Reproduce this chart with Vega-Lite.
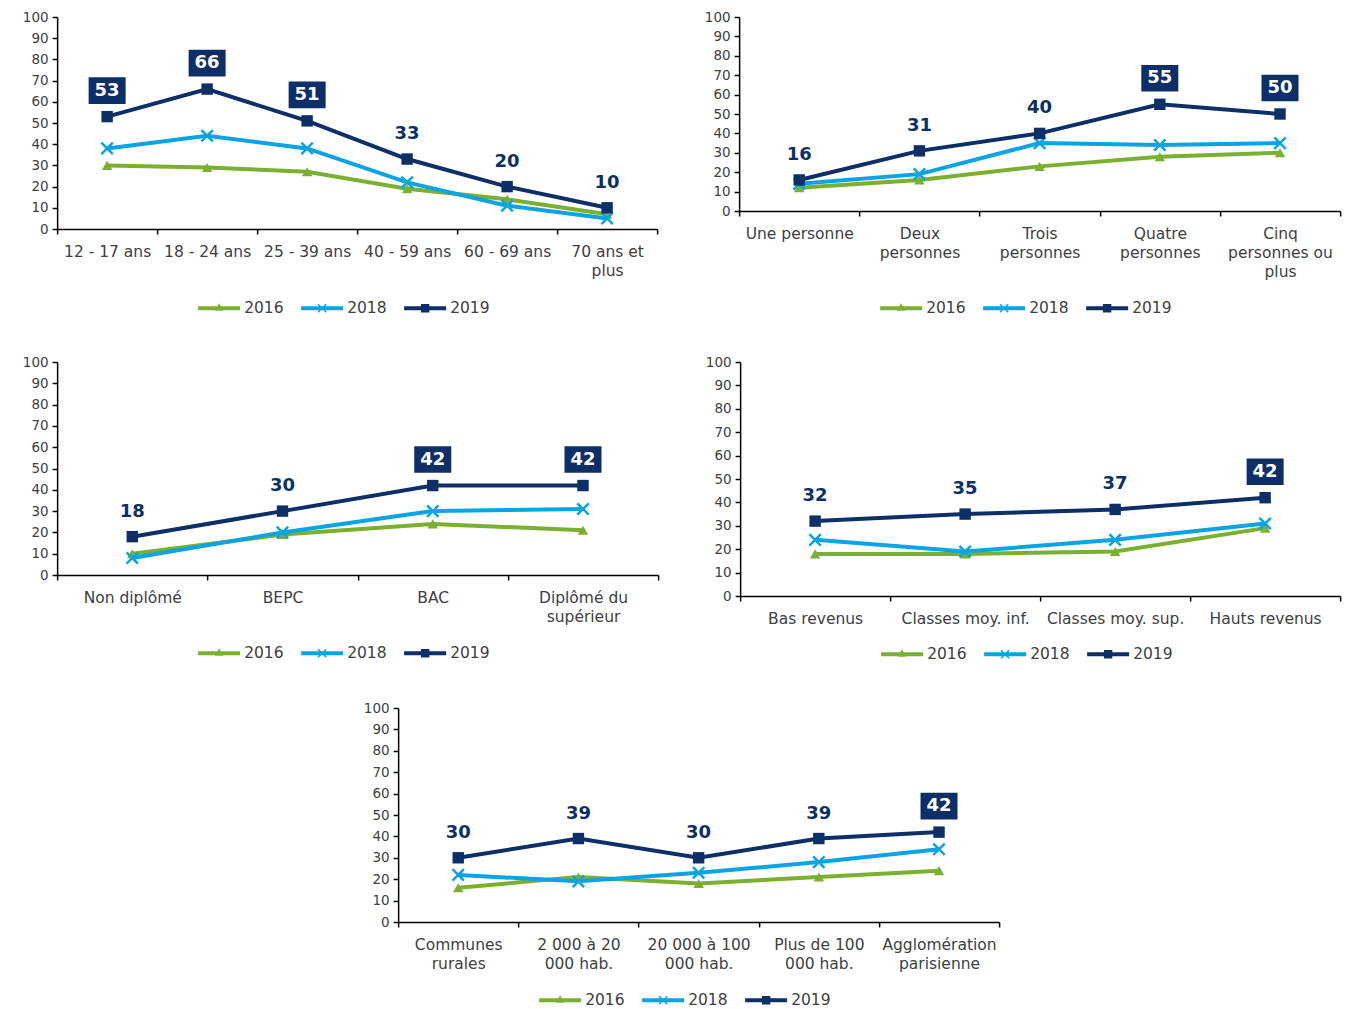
{
  "$schema": "https://vega.github.io/schema/vega-lite/v6.json",
  "background": "white",
  "padding": {"left": 22, "top": 10, "right": 5, "bottom": 5},
  "config": {
    "font": "DejaVu Sans",
    "view": {"stroke": null},
    "axis": {"labelFont": "DejaVu Sans", "labelColor": "#404040", "domainColor": "#000000", "domainWidth": 1.5, "tickColor": "#000000", "tickWidth": 1.5, "tickSize": 5, "grid": false},
    "axisX": {"labelFontSize": 15.5, "labelAngle": 0, "tickBand": "extent", "labelPadding": 10, "labelLineHeight": 19, "labelOverlap": false, "labelBaseline": "top"},
    "axisY": {"labelFontSize": 13.5, "labelPadding": 4},
    "legend": {"labelFont": "DejaVu Sans", "labelFontSize": 15.5, "labelColor": "#404040", "symbolSize": 1764, "symbolStrokeWidth": 0, "columnPadding": 17, "labelOffset": 4}
  },
  "datasets": {
    "age": [
      {"cat": "12 - 17 ans", "year": "2016", "v": 30}, {"cat": "18 - 24 ans", "year": "2016", "v": 29}, {"cat": "25 - 39 ans", "year": "2016", "v": 27}, {"cat": "40 - 59 ans", "year": "2016", "v": 19}, {"cat": "60 - 69 ans", "year": "2016", "v": 14}, {"cat": "70 ans et plus", "year": "2016", "v": 7},
      {"cat": "12 - 17 ans", "year": "2018", "v": 38}, {"cat": "18 - 24 ans", "year": "2018", "v": 44}, {"cat": "25 - 39 ans", "year": "2018", "v": 38}, {"cat": "40 - 59 ans", "year": "2018", "v": 22}, {"cat": "60 - 69 ans", "year": "2018", "v": 11}, {"cat": "70 ans et plus", "year": "2018", "v": 5},
      {"cat": "12 - 17 ans", "year": "2019", "v": 53}, {"cat": "18 - 24 ans", "year": "2019", "v": 66}, {"cat": "25 - 39 ans", "year": "2019", "v": 51}, {"cat": "40 - 59 ans", "year": "2019", "v": 33}, {"cat": "60 - 69 ans", "year": "2019", "v": 20}, {"cat": "70 ans et plus", "year": "2019", "v": 10}
    ],
    "foyer": [
      {"cat": "Une personne", "year": "2016", "v": 12}, {"cat": "Deux personnes", "year": "2016", "v": 16}, {"cat": "Trois personnes", "year": "2016", "v": 23}, {"cat": "Quatre personnes", "year": "2016", "v": 28}, {"cat": "Cinq personnes ou plus", "year": "2016", "v": 30},
      {"cat": "Une personne", "year": "2018", "v": 14}, {"cat": "Deux personnes", "year": "2018", "v": 19}, {"cat": "Trois personnes", "year": "2018", "v": 35}, {"cat": "Quatre personnes", "year": "2018", "v": 34}, {"cat": "Cinq personnes ou plus", "year": "2018", "v": 35},
      {"cat": "Une personne", "year": "2019", "v": 16}, {"cat": "Deux personnes", "year": "2019", "v": 31}, {"cat": "Trois personnes", "year": "2019", "v": 40}, {"cat": "Quatre personnes", "year": "2019", "v": 55}, {"cat": "Cinq personnes ou plus", "year": "2019", "v": 50}
    ],
    "diplome": [
      {"cat": "Non diplômé", "year": "2016", "v": 10}, {"cat": "BEPC", "year": "2016", "v": 19}, {"cat": "BAC", "year": "2016", "v": 24}, {"cat": "Diplômé du supérieur", "year": "2016", "v": 21},
      {"cat": "Non diplômé", "year": "2018", "v": 8}, {"cat": "BEPC", "year": "2018", "v": 20}, {"cat": "BAC", "year": "2018", "v": 30}, {"cat": "Diplômé du supérieur", "year": "2018", "v": 31},
      {"cat": "Non diplômé", "year": "2019", "v": 18}, {"cat": "BEPC", "year": "2019", "v": 30}, {"cat": "BAC", "year": "2019", "v": 42}, {"cat": "Diplômé du supérieur", "year": "2019", "v": 42}
    ],
    "revenu": [
      {"cat": "Bas revenus", "year": "2016", "v": 18}, {"cat": "Classes moy. inf.", "year": "2016", "v": 18}, {"cat": "Classes moy. sup.", "year": "2016", "v": 19}, {"cat": "Hauts revenus", "year": "2016", "v": 29},
      {"cat": "Bas revenus", "year": "2018", "v": 24}, {"cat": "Classes moy. inf.", "year": "2018", "v": 19}, {"cat": "Classes moy. sup.", "year": "2018", "v": 24}, {"cat": "Hauts revenus", "year": "2018", "v": 31},
      {"cat": "Bas revenus", "year": "2019", "v": 32}, {"cat": "Classes moy. inf.", "year": "2019", "v": 35}, {"cat": "Classes moy. sup.", "year": "2019", "v": 37}, {"cat": "Hauts revenus", "year": "2019", "v": 42}
    ],
    "ville": [
      {"cat": "Communes rurales", "year": "2016", "v": 16}, {"cat": "2 000 à 20 000 hab.", "year": "2016", "v": 21}, {"cat": "20 000 à 100 000 hab.", "year": "2016", "v": 18}, {"cat": "Plus de 100 000 hab.", "year": "2016", "v": 21}, {"cat": "Agglomération parisienne", "year": "2016", "v": 24},
      {"cat": "Communes rurales", "year": "2018", "v": 22}, {"cat": "2 000 à 20 000 hab.", "year": "2018", "v": 19}, {"cat": "20 000 à 100 000 hab.", "year": "2018", "v": 23}, {"cat": "Plus de 100 000 hab.", "year": "2018", "v": 28}, {"cat": "Agglomération parisienne", "year": "2018", "v": 34},
      {"cat": "Communes rurales", "year": "2019", "v": 30}, {"cat": "2 000 à 20 000 hab.", "year": "2019", "v": 39}, {"cat": "20 000 à 100 000 hab.", "year": "2019", "v": 30}, {"cat": "Plus de 100 000 hab.", "year": "2019", "v": 39}, {"cat": "Agglomération parisienne", "year": "2019", "v": 42}
    ]
  },
  "center": true,
  "spacing": 38,
  "resolve": {"scale": {"fill": "independent", "shape": "independent"}, "legend": {"fill": "independent", "shape": "independent"}},
  "vconcat": [
    {
      "spacing": 46,
      "resolve": {"scale": {"fill": "independent", "shape": "independent"}, "legend": {"fill": "independent", "shape": "independent"}},
      "hconcat": [
        {
          "width": 600, "height": 212,
          "data": {"name": "age"},
          "encoding": {
            "x": {"field": "cat", "type": "nominal", "title": null, "sort": ["12 - 17 ans", "18 - 24 ans", "25 - 39 ans", "40 - 59 ans", "60 - 69 ans", "70 ans et plus"], "scale": {"type": "band", "paddingInner": 0, "paddingOuter": 0}, "axis": {"labelExpr": "datum.label == '70 ans et plus' ? ['70 ans et', 'plus'] : datum.label"}},
            "y": {"field": "v", "type": "quantitative", "title": null, "scale": {"domain": [0, 100]}, "axis": {"values": [0, 10, 20, 30, 40, 50, 60, 70, 80, 90, 100]}}
          },
          "layer": [
            {"transform": [{"filter": "datum.year == '2016'"}], "mark": {"type": "line", "strokeWidth": 4, "color": "#7AB02F"}},
            {"transform": [{"filter": "datum.year == '2016'"}], "mark": {"type": "point", "shape": "triangle-up", "filled": true, "color": "#7AB02F", "size": 110, "opacity": 1}},
            {"transform": [{"filter": "datum.year == '2018'"}], "mark": {"type": "line", "strokeWidth": 4, "color": "#0AA3E3"}},
            {"transform": [{"filter": "datum.year == '2018'"}], "mark": {"type": "point", "shape": "M-1,-1L1,1M-1,1L1,-1", "filled": false, "color": "#0AA3E3", "strokeWidth": 2.5, "size": 130, "opacity": 1}},
            {"transform": [{"filter": "datum.year == '2019'"}], "mark": {"type": "line", "strokeWidth": 4, "color": "#0B2F66"}},
            {"transform": [{"filter": "datum.year == '2019'"}], "mark": {"type": "point", "shape": "square", "filled": true, "color": "#0B2F66", "size": 130, "opacity": 1}},
            {"transform": [{"filter": "datum.year == '2019' && datum.v < 42"}], "mark": {"type": "text", "font": "DejaVu Sans", "fontWeight": "bold", "fontSize": 18, "color": "#0B2F66", "baseline": "middle", "yOffset": -25}, "encoding": {"text": {"field": "v"}}},
            {"transform": [{"filter": "datum.year == '2019' && datum.v >= 42"}], "mark": {"type": "point", "shape": "M-1,-0.72L1,-0.72L1,0.72L-1,0.72Z", "filled": true, "color": "#0B2F66", "size": 1369, "opacity": 1, "yOffset": -26}},
            {"transform": [{"filter": "datum.year == '2019' && datum.v >= 42"}], "mark": {"type": "text", "font": "DejaVu Sans", "fontWeight": "bold", "fontSize": 18, "color": "#FFFFFF", "baseline": "middle", "yOffset": -26}, "encoding": {"text": {"field": "v"}}},
            {"mark": {"type": "point", "filled": true, "opacity": 0},
              "encoding": {
                "fill": {"field": "year", "type": "nominal", "scale": {"domain": ["2016", "2018", "2019"], "range": ["#7AB02F", "#0AA3E3", "#0B2F66"]}, "legend": {"orient": "none", "direction": "horizontal", "legendX": 141, "legendY": 270, "title": null, "symbolOpacity": 1}},
                "shape": {"field": "year", "type": "nominal", "scale": {"domain": ["2016", "2018", "2019"], "range": ["M-1,-0.1L1,-0.1L1,0.1L-1,0.1Z M0,-0.24L0.2,0.12L-0.2,0.12Z", "M-1,-0.1L1,-0.1L1,0.1L-1,0.1Z M-0.22,-0.17L-0.17,-0.22L0.22,0.17L0.17,0.22Z M0.17,-0.22L0.22,-0.17L-0.17,0.22L-0.22,0.17Z", "M-1,-0.1L1,-0.1L1,0.1L-1,0.1Z M-0.2,-0.2L0.2,-0.2L0.2,0.2L-0.2,0.2Z"]}, "legend": {"orient": "none", "direction": "horizontal", "legendX": 141, "legendY": 270, "title": null, "symbolOpacity": 1}}
              }}
          ]
        },
        {
          "width": 601, "height": 194,
          "data": {"name": "foyer"},
          "encoding": {
            "x": {"field": "cat", "type": "nominal", "title": null, "sort": ["Une personne", "Deux personnes", "Trois personnes", "Quatre personnes", "Cinq personnes ou plus"], "scale": {"type": "band", "paddingInner": 0, "paddingOuter": 0}, "axis": {"labelExpr": "datum.label == 'Deux personnes' ? ['Deux', 'personnes'] : datum.label == 'Trois personnes' ? ['Trois', 'personnes'] : datum.label == 'Quatre personnes' ? ['Quatre', 'personnes'] : datum.label == 'Cinq personnes ou plus' ? ['Cinq', 'personnes ou', 'plus'] : datum.label"}},
            "y": {"field": "v", "type": "quantitative", "title": null, "scale": {"domain": [0, 100]}, "axis": {"values": [0, 10, 20, 30, 40, 50, 60, 70, 80, 90, 100]}}
          },
          "layer": [
            {"transform": [{"filter": "datum.year == '2016'"}], "mark": {"type": "line", "strokeWidth": 4, "color": "#7AB02F"}},
            {"transform": [{"filter": "datum.year == '2016'"}], "mark": {"type": "point", "shape": "triangle-up", "filled": true, "color": "#7AB02F", "size": 110, "opacity": 1}},
            {"transform": [{"filter": "datum.year == '2018'"}], "mark": {"type": "line", "strokeWidth": 4, "color": "#0AA3E3"}},
            {"transform": [{"filter": "datum.year == '2018'"}], "mark": {"type": "point", "shape": "M-1,-1L1,1M-1,1L1,-1", "filled": false, "color": "#0AA3E3", "strokeWidth": 2.5, "size": 130, "opacity": 1}},
            {"transform": [{"filter": "datum.year == '2019'"}], "mark": {"type": "line", "strokeWidth": 4, "color": "#0B2F66"}},
            {"transform": [{"filter": "datum.year == '2019'"}], "mark": {"type": "point", "shape": "square", "filled": true, "color": "#0B2F66", "size": 130, "opacity": 1}},
            {"transform": [{"filter": "datum.year == '2019' && datum.v < 42"}], "mark": {"type": "text", "font": "DejaVu Sans", "fontWeight": "bold", "fontSize": 18, "color": "#0B2F66", "baseline": "middle", "yOffset": -25}, "encoding": {"text": {"field": "v"}}},
            {"transform": [{"filter": "datum.year == '2019' && datum.v >= 42"}], "mark": {"type": "point", "shape": "M-1,-0.72L1,-0.72L1,0.72L-1,0.72Z", "filled": true, "color": "#0B2F66", "size": 1369, "opacity": 1, "yOffset": -26}},
            {"transform": [{"filter": "datum.year == '2019' && datum.v >= 42"}], "mark": {"type": "text", "font": "DejaVu Sans", "fontWeight": "bold", "fontSize": 18, "color": "#FFFFFF", "baseline": "middle", "yOffset": -26}, "encoding": {"text": {"field": "v"}}},
            {"mark": {"type": "point", "filled": true, "opacity": 0},
              "encoding": {
                "fill": {"field": "year", "type": "nominal", "scale": {"domain": ["2016", "2018", "2019"], "range": ["#7AB02F", "#0AA3E3", "#0B2F66"]}, "legend": {"orient": "none", "direction": "horizontal", "legendX": 141, "legendY": 270, "title": null, "symbolOpacity": 1}},
                "shape": {"field": "year", "type": "nominal", "scale": {"domain": ["2016", "2018", "2019"], "range": ["M-1,-0.1L1,-0.1L1,0.1L-1,0.1Z M0,-0.24L0.2,0.12L-0.2,0.12Z", "M-1,-0.1L1,-0.1L1,0.1L-1,0.1Z M-0.22,-0.17L-0.17,-0.22L0.22,0.17L0.17,0.22Z M0.17,-0.22L0.22,-0.17L-0.17,0.22L-0.22,0.17Z", "M-1,-0.1L1,-0.1L1,0.1L-1,0.1Z M-0.2,-0.2L0.2,-0.2L0.2,0.2L-0.2,0.2Z"]}, "legend": {"orient": "none", "direction": "horizontal", "legendX": 141, "legendY": 270, "title": null, "symbolOpacity": 1}}
              }}
          ]
        }
      ]
    },
    {
      "spacing": 46,
      "resolve": {"scale": {"fill": "independent", "shape": "independent"}, "legend": {"fill": "independent", "shape": "independent"}},
      "hconcat": [
        {
          "width": 601, "height": 213,
          "data": {"name": "diplome"},
          "encoding": {
            "x": {"field": "cat", "type": "nominal", "title": null, "sort": ["Non diplômé", "BEPC", "BAC", "Diplômé du supérieur"], "scale": {"type": "band", "paddingInner": 0, "paddingOuter": 0}, "axis": {"labelExpr": "datum.label == 'Diplômé du supérieur' ? ['Diplômé du', 'supérieur'] : datum.label"}},
            "y": {"field": "v", "type": "quantitative", "title": null, "scale": {"domain": [0, 100]}, "axis": {"values": [0, 10, 20, 30, 40, 50, 60, 70, 80, 90, 100]}}
          },
          "layer": [
            {"transform": [{"filter": "datum.year == '2016'"}], "mark": {"type": "line", "strokeWidth": 4, "color": "#7AB02F"}},
            {"transform": [{"filter": "datum.year == '2016'"}], "mark": {"type": "point", "shape": "triangle-up", "filled": true, "color": "#7AB02F", "size": 110, "opacity": 1}},
            {"transform": [{"filter": "datum.year == '2018'"}], "mark": {"type": "line", "strokeWidth": 4, "color": "#0AA3E3"}},
            {"transform": [{"filter": "datum.year == '2018'"}], "mark": {"type": "point", "shape": "M-1,-1L1,1M-1,1L1,-1", "filled": false, "color": "#0AA3E3", "strokeWidth": 2.5, "size": 130, "opacity": 1}},
            {"transform": [{"filter": "datum.year == '2019'"}], "mark": {"type": "line", "strokeWidth": 4, "color": "#0B2F66"}},
            {"transform": [{"filter": "datum.year == '2019'"}], "mark": {"type": "point", "shape": "square", "filled": true, "color": "#0B2F66", "size": 130, "opacity": 1}},
            {"transform": [{"filter": "datum.year == '2019' && datum.v < 42"}], "mark": {"type": "text", "font": "DejaVu Sans", "fontWeight": "bold", "fontSize": 18, "color": "#0B2F66", "baseline": "middle", "yOffset": -25}, "encoding": {"text": {"field": "v"}}},
            {"transform": [{"filter": "datum.year == '2019' && datum.v >= 42"}], "mark": {"type": "point", "shape": "M-1,-0.72L1,-0.72L1,0.72L-1,0.72Z", "filled": true, "color": "#0B2F66", "size": 1369, "opacity": 1, "yOffset": -26}},
            {"transform": [{"filter": "datum.year == '2019' && datum.v >= 42"}], "mark": {"type": "text", "font": "DejaVu Sans", "fontWeight": "bold", "fontSize": 18, "color": "#FFFFFF", "baseline": "middle", "yOffset": -26}, "encoding": {"text": {"field": "v"}}},
            {"mark": {"type": "point", "filled": true, "opacity": 0},
              "encoding": {
                "fill": {"field": "year", "type": "nominal", "scale": {"domain": ["2016", "2018", "2019"], "range": ["#7AB02F", "#0AA3E3", "#0B2F66"]}, "legend": {"orient": "none", "direction": "horizontal", "legendX": 141, "legendY": 270, "title": null, "symbolOpacity": 1}},
                "shape": {"field": "year", "type": "nominal", "scale": {"domain": ["2016", "2018", "2019"], "range": ["M-1,-0.1L1,-0.1L1,0.1L-1,0.1Z M0,-0.24L0.2,0.12L-0.2,0.12Z", "M-1,-0.1L1,-0.1L1,0.1L-1,0.1Z M-0.22,-0.17L-0.17,-0.22L0.22,0.17L0.17,0.22Z M0.17,-0.22L0.22,-0.17L-0.17,0.22L-0.22,0.17Z", "M-1,-0.1L1,-0.1L1,0.1L-1,0.1Z M-0.2,-0.2L0.2,-0.2L0.2,0.2L-0.2,0.2Z"]}, "legend": {"orient": "none", "direction": "horizontal", "legendX": 141, "legendY": 270, "title": null, "symbolOpacity": 1}}
              }}
          ]
        },
        {
          "width": 600, "height": 234,
          "data": {"name": "revenu"},
          "encoding": {
            "x": {"field": "cat", "type": "nominal", "title": null, "sort": ["Bas revenus", "Classes moy. inf.", "Classes moy. sup.", "Hauts revenus"], "scale": {"type": "band", "paddingInner": 0, "paddingOuter": 0}},
            "y": {"field": "v", "type": "quantitative", "title": null, "scale": {"domain": [0, 100]}, "axis": {"values": [0, 10, 20, 30, 40, 50, 60, 70, 80, 90, 100]}}
          },
          "layer": [
            {"transform": [{"filter": "datum.year == '2016'"}], "mark": {"type": "line", "strokeWidth": 4, "color": "#7AB02F"}},
            {"transform": [{"filter": "datum.year == '2016'"}], "mark": {"type": "point", "shape": "triangle-up", "filled": true, "color": "#7AB02F", "size": 110, "opacity": 1}},
            {"transform": [{"filter": "datum.year == '2018'"}], "mark": {"type": "line", "strokeWidth": 4, "color": "#0AA3E3"}},
            {"transform": [{"filter": "datum.year == '2018'"}], "mark": {"type": "point", "shape": "M-1,-1L1,1M-1,1L1,-1", "filled": false, "color": "#0AA3E3", "strokeWidth": 2.5, "size": 130, "opacity": 1}},
            {"transform": [{"filter": "datum.year == '2019'"}], "mark": {"type": "line", "strokeWidth": 4, "color": "#0B2F66"}},
            {"transform": [{"filter": "datum.year == '2019'"}], "mark": {"type": "point", "shape": "square", "filled": true, "color": "#0B2F66", "size": 130, "opacity": 1}},
            {"transform": [{"filter": "datum.year == '2019' && datum.v < 42"}], "mark": {"type": "text", "font": "DejaVu Sans", "fontWeight": "bold", "fontSize": 18, "color": "#0B2F66", "baseline": "middle", "yOffset": -25}, "encoding": {"text": {"field": "v"}}},
            {"transform": [{"filter": "datum.year == '2019' && datum.v >= 42"}], "mark": {"type": "point", "shape": "M-1,-0.72L1,-0.72L1,0.72L-1,0.72Z", "filled": true, "color": "#0B2F66", "size": 1369, "opacity": 1, "yOffset": -26}},
            {"transform": [{"filter": "datum.year == '2019' && datum.v >= 42"}], "mark": {"type": "text", "font": "DejaVu Sans", "fontWeight": "bold", "fontSize": 18, "color": "#FFFFFF", "baseline": "middle", "yOffset": -26}, "encoding": {"text": {"field": "v"}}},
            {"mark": {"type": "point", "filled": true, "opacity": 0},
              "encoding": {
                "fill": {"field": "year", "type": "nominal", "scale": {"domain": ["2016", "2018", "2019"], "range": ["#7AB02F", "#0AA3E3", "#0B2F66"]}, "legend": {"orient": "none", "direction": "horizontal", "legendX": 141, "legendY": 271, "title": null, "symbolOpacity": 1}},
                "shape": {"field": "year", "type": "nominal", "scale": {"domain": ["2016", "2018", "2019"], "range": ["M-1,-0.1L1,-0.1L1,0.1L-1,0.1Z M0,-0.24L0.2,0.12L-0.2,0.12Z", "M-1,-0.1L1,-0.1L1,0.1L-1,0.1Z M-0.22,-0.17L-0.17,-0.22L0.22,0.17L0.17,0.22Z M0.17,-0.22L0.22,-0.17L-0.17,0.22L-0.22,0.17Z", "M-1,-0.1L1,-0.1L1,0.1L-1,0.1Z M-0.2,-0.2L0.2,-0.2L0.2,0.2L-0.2,0.2Z"]}, "legend": {"orient": "none", "direction": "horizontal", "legendX": 141, "legendY": 271, "title": null, "symbolOpacity": 1}}
              }}
          ]
        }
      ]
    },
    {
      "width": 601, "height": 214,
      "data": {"name": "ville"},
      "encoding": {
        "x": {"field": "cat", "type": "nominal", "title": null, "sort": ["Communes rurales", "2 000 à 20 000 hab.", "20 000 à 100 000 hab.", "Plus de 100 000 hab.", "Agglomération parisienne"], "scale": {"type": "band", "paddingInner": 0, "paddingOuter": 0}, "axis": {"labelExpr": "datum.label == 'Communes rurales' ? ['Communes', 'rurales'] : datum.label == '2 000 à 20 000 hab.' ? ['2 000 à 20', '000 hab.'] : datum.label == '20 000 à 100 000 hab.' ? ['20 000 à 100', '000 hab.'] : datum.label == 'Plus de 100 000 hab.' ? ['Plus de 100', '000 hab.'] : datum.label == 'Agglomération parisienne' ? ['Agglomération', 'parisienne'] : datum.label"}},
        "y": {"field": "v", "type": "quantitative", "title": null, "scale": {"domain": [0, 100]}, "axis": {"values": [0, 10, 20, 30, 40, 50, 60, 70, 80, 90, 100]}}
      },
      "layer": [
        {"transform": [{"filter": "datum.year == '2016'"}], "mark": {"type": "line", "strokeWidth": 4, "color": "#7AB02F"}},
        {"transform": [{"filter": "datum.year == '2016'"}], "mark": {"type": "point", "shape": "triangle-up", "filled": true, "color": "#7AB02F", "size": 110, "opacity": 1}},
        {"transform": [{"filter": "datum.year == '2018'"}], "mark": {"type": "line", "strokeWidth": 4, "color": "#0AA3E3"}},
        {"transform": [{"filter": "datum.year == '2018'"}], "mark": {"type": "point", "shape": "M-1,-1L1,1M-1,1L1,-1", "filled": false, "color": "#0AA3E3", "strokeWidth": 2.5, "size": 130, "opacity": 1}},
        {"transform": [{"filter": "datum.year == '2019'"}], "mark": {"type": "line", "strokeWidth": 4, "color": "#0B2F66"}},
        {"transform": [{"filter": "datum.year == '2019'"}], "mark": {"type": "point", "shape": "square", "filled": true, "color": "#0B2F66", "size": 130, "opacity": 1}},
        {"transform": [{"filter": "datum.year == '2019' && datum.v < 42"}], "mark": {"type": "text", "font": "DejaVu Sans", "fontWeight": "bold", "fontSize": 18, "color": "#0B2F66", "baseline": "middle", "yOffset": -25}, "encoding": {"text": {"field": "v"}}},
        {"transform": [{"filter": "datum.year == '2019' && datum.v >= 42"}], "mark": {"type": "point", "shape": "M-1,-0.72L1,-0.72L1,0.72L-1,0.72Z", "filled": true, "color": "#0B2F66", "size": 1369, "opacity": 1, "yOffset": -26}},
        {"transform": [{"filter": "datum.year == '2019' && datum.v >= 42"}], "mark": {"type": "text", "font": "DejaVu Sans", "fontWeight": "bold", "fontSize": 18, "color": "#FFFFFF", "baseline": "middle", "yOffset": -26}, "encoding": {"text": {"field": "v"}}},
        {"mark": {"type": "point", "filled": true, "opacity": 0},
          "encoding": {
            "fill": {"field": "year", "type": "nominal", "scale": {"domain": ["2016", "2018", "2019"], "range": ["#7AB02F", "#0AA3E3", "#0B2F66"]}, "legend": {"orient": "none", "direction": "horizontal", "legendX": 141, "legendY": 271, "title": null, "symbolOpacity": 1}},
            "shape": {"field": "year", "type": "nominal", "scale": {"domain": ["2016", "2018", "2019"], "range": ["M-1,-0.1L1,-0.1L1,0.1L-1,0.1Z M0,-0.24L0.2,0.12L-0.2,0.12Z", "M-1,-0.1L1,-0.1L1,0.1L-1,0.1Z M-0.22,-0.17L-0.17,-0.22L0.22,0.17L0.17,0.22Z M0.17,-0.22L0.22,-0.17L-0.17,0.22L-0.22,0.17Z", "M-1,-0.1L1,-0.1L1,0.1L-1,0.1Z M-0.2,-0.2L0.2,-0.2L0.2,0.2L-0.2,0.2Z"]}, "legend": {"orient": "none", "direction": "horizontal", "legendX": 141, "legendY": 271, "title": null, "symbolOpacity": 1}}
          }}
      ]
    }
  ]
}
